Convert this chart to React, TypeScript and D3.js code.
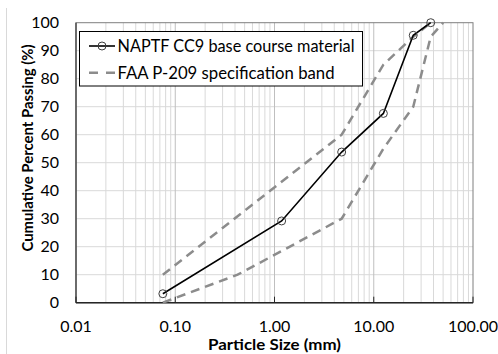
import React from 'react';
import * as d3 from 'd3';

const sieveSizes = [0.075, 1.18, 4.75, 12.5, 25, 37.5];
const cc9Passing = [3.2, 29.2, 53.8, 67.6, 95.5, 100];
const upperSizes = [0.075, 4.75, 12.5, 25, 37.5];
const upperPassing = [10, 60, 85, 95, 100];
const lowerSizes = [0.075, 0.425, 4.75, 12.5, 25, 37.5, 50];
const lowerPassing = [0, 10, 30, 55, 70, 95, 100];
const xTicks = [0.01, 0.1, 1, 10, 100];
const xTickLabels = ['0.01', '0.10', '1.00', '10.00', '100.00'];
const yTicks = [0, 10, 20, 30, 40, 50, 60, 70, 80, 90, 100];
const seriesNames = ['NAPTF CC9 base course material', 'FAA P-209 specification band'];
const xTitle = 'Particle Size (mm)';
const yTitle = 'Cumulative Percent Passing (%)';

const W = 498;
const H = 354;
const L = 76, R = 473, T = 22.7, B = 302.7;
const FONT = "Lato, 'Open Sans', sans-serif";

export default function App() {
  const x = d3.scaleLog().domain([0.01, 100]).range([L, R]);
  const y = d3.scaleLinear().domain([0, 100]).range([B, T]);
  const minor: number[] = [];
  [0.01, 0.1, 1, 10].forEach((d) => {
    for (let m = 2; m <= 9; m++) minor.push(d * m);
  });
  const line = d3
    .line<[number, number]>()
    .x((d) => x(d[0]))
    .y((d) => y(d[1]));
  const cc9 = sieveSizes.map((s, i) => [s, cc9Passing[i]] as [number, number]);
  const upper = upperSizes.map((s, i) => [s, upperPassing[i]] as [number, number]);
  const lower = lowerSizes.map((s, i) => [s, lowerPassing[i]] as [number, number]);
  const dash = '9,6';
  const bandColor = '#8c8c8c';

  return (
    <svg
      width={W}
      height={H}
      style={{ position: 'absolute', left: 0, top: 0, background: '#fff' }}
      fontFamily={FONT}
    >
      <line x1={6.5} x2={6.5} y1={8} y2={H} stroke="#d9d9d9" strokeWidth={1} />
      {/* gridlines */}
      {yTicks.slice(1, -1).map((t) => (
        <line key={'hy' + t} x1={L} x2={R} y1={y(t)} y2={y(t)} stroke="#d9d9d9" strokeWidth={1} />
      ))}
      {minor.map((t) => (
        <line key={'mx' + t} x1={x(t)} x2={x(t)} y1={T} y2={B} stroke="#d9d9d9" strokeWidth={1} />
      ))}
      {xTicks.slice(1, -1).map((t) => (
        <line key={'Mx' + t} x1={x(t)} x2={x(t)} y1={T} y2={B} stroke="#bfbfbf" strokeWidth={1} />
      ))}
      {/* border */}
      <rect x={L} y={T} width={R - L} height={B - T} fill="none" stroke="#7f7f7f" strokeWidth={1} />
      <line x1={L} x2={L} y1={T} y2={B} stroke="#404040" strokeWidth={1.3} />
      <line x1={L} x2={R} y1={B} y2={B} stroke="#262626" strokeWidth={1.5} />
      {xTicks.map((t) => (
        <line key={'tk' + t} x1={x(t)} x2={x(t)} y1={B} y2={B - 6} stroke="#262626" strokeWidth={1} />
      ))}
      {/* band */}
      <path d={line(upper) || ''} fill="none" stroke={bandColor} strokeWidth={2.5} strokeDasharray={dash} />
      <path d={line(lower) || ''} fill="none" stroke={bandColor} strokeWidth={2.5} strokeDasharray={dash} />
      {/* data */}
      <path d={line(cc9) || ''} fill="none" stroke="#000" strokeWidth={1.6} />
      {cc9.map((d, i) => (
        <circle key={'c' + i} cx={x(d[0])} cy={y(d[1])} r={4} fill="none" stroke="#404040" strokeWidth={1} />
      ))}
      {/* tick labels */}
      {yTicks.map((t) => (
        <text key={'yl' + t} x={59} y={y(t)} dy="0.35em" textAnchor="end" fontSize={16} fill="#000">
          {t}
        </text>
      ))}
      {xTicks.map((t, i) => (
        <text key={'xl' + t} x={x(t)} y={326.5} dy="0.35em" textAnchor="middle" fontSize={16} fill="#000">
          {xTickLabels[i]}
        </text>
      ))}
      <text
        x={(L + R) / 2}
        y={344}
        dy="0.35em"
        textAnchor="middle"
        fontSize={16}
        fontWeight="bold"
        fill="#000"
        textLength={133}
        lengthAdjust="spacingAndGlyphs"
      >
        {xTitle}
      </text>
      <text
        transform={`translate(27,148) rotate(-90)`}
        dy="0.35em"
        textAnchor="middle"
        fontSize={16}
        fontWeight="bold"
        fill="#000"
        textLength={207}
        lengthAdjust="spacingAndGlyphs"
      >
        {yTitle}
      </text>
      {/* legend */}
      <rect x={79.5} y={31.5} width={283} height={54.5} fill="#fff" stroke="#000" strokeWidth={1} />
      <line x1={89} x2={115} y1={46} y2={46} stroke="#000" strokeWidth={1.6} />
      <circle cx={102} cy={46} r={4} fill="none" stroke="#404040" strokeWidth={1} />
      <text x={117.5} y={46} dy="0.35em" fontSize={17.5} fill="#000" textLength={237} lengthAdjust="spacingAndGlyphs">
        {seriesNames[0]}
      </text>
      <line x1={89} x2={115} y1={72.7} y2={72.7} stroke={bandColor} strokeWidth={2.5} strokeDasharray="9,8" />
      <text x={117.5} y={72.7} dy="0.35em" fontSize={17.5} fill="#000" textLength={217} lengthAdjust="spacingAndGlyphs">
        {seriesNames[1]}
      </text>
    </svg>
  );
}
